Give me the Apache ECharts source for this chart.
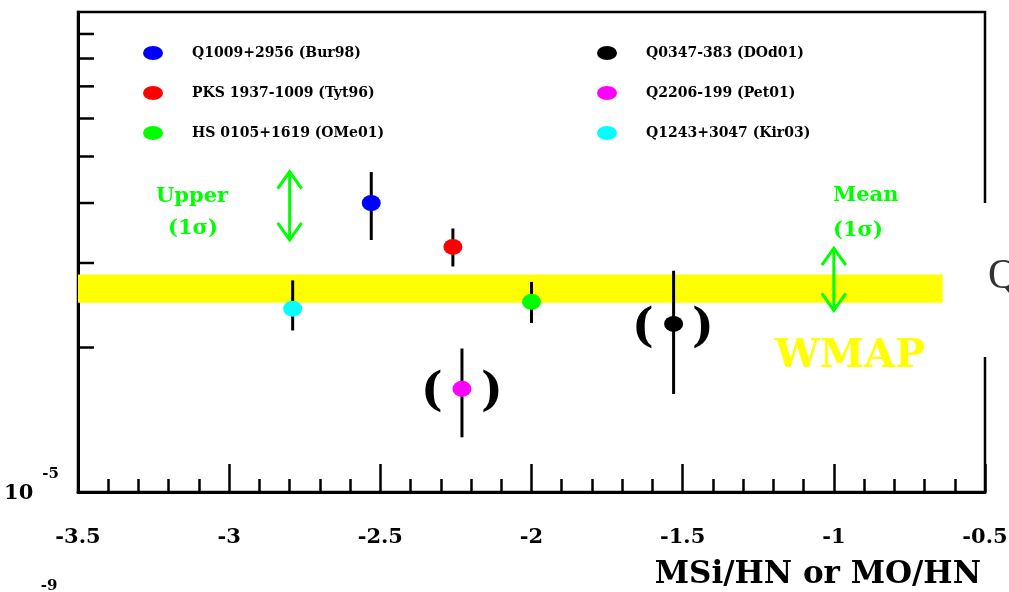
<!DOCTYPE html>
<html>
<head>
<meta charset="utf-8">
<script src="https://cdn.jsdelivr.net/npm/echarts@6/dist/echarts.min.js"></script>
<style>
html,body{margin:0;padding:0;background:#fff;}
#chart{width:1009px;height:592px;}
</style>
</head>
<body>
<div id="chart"></div>
<script>
// ---- data ----
const sourceNames = ['Q1009+2956 (Bur98)', 'PKS 1937-1009 (Tyt96)', 'HS 0105+1619 (OMe01)',
                     'Q0347-383 (DOd01)', 'Q2206-199 (Pet01)', 'Q1243+3047 (Kir03)'];
const sourceColors = ['#0000ff', '#ff0000', '#00ff00', '#000000', '#ff00ff', '#00ffff'];
const xValues = [-2.53, -2.26, -2.00, -1.53, -2.23, -2.79];
const yValues = [4.00e-5, 3.24e-5, 2.49e-5, 2.24e-5, 1.64e-5, 2.41e-5];
const yLow    = [3.35e-5, 2.95e-5, 2.25e-5, 1.60e-5, 1.30e-5, 2.17e-5];
const yHigh   = [4.64e-5, 3.54e-5, 2.74e-5, 2.89e-5, 1.99e-5, 2.76e-5];
const yTickValues = [2e-5, 3e-5, 4e-5, 5e-5, 6e-5, 7e-5, 8e-5, 9e-5];
const wmapBandX = [-3.5, -0.64];
const wmapBandY = [2.48e-5, 2.84e-5];
const arrowX    = [-2.80, -1.00];
const arrowLow  = [3.35e-5, 2.39e-5];
const arrowHigh = [4.65e-5, 3.22e-5];
const xMin = -3.5, xMax = -0.5, xStep = 0.5;
const yMin = 1e-5, yMax = 1e-4;

// ---- chart ----
const FONT = 'DejaVu Serif';
const ELLIPSE = 'path://M10 0A10 10 0 1 1 10 20A10 10 0 1 1 10 0Z';
const GREEN = '#00ff00';
const chart = echarts.init(document.getElementById('chart'), null, {renderer: 'canvas'});

const pointSeries = sourceNames.map((name, i) => ({
  name: name,
  type: 'scatter',
  symbol: ELLIPSE,
  symbolSize: [19, 16],
  symbolKeepAspect: false,
  itemStyle: {color: sourceColors[i], opacity: 1},
  data: [[xValues[i], yValues[i]]],
  z: 5,
  silent: true
}));

function legendCfg(names, left) {
  return {
    orient: 'vertical', left: left, top: 46, padding: 0, itemWidth: 20, itemHeight: 14, itemGap: 26,
    icon: ELLIPSE, symbolKeepAspect: false, selectedMode: false, data: names,
    textStyle: {fontFamily: FONT, fontWeight: 'bold', fontSize: 14, color: '#000', lineHeight: 14, padding: [0, 0, 0, 24]}
  };
}

const option = {
  backgroundColor: '#fff',
  animation: false,
  legend: [legendCfg(sourceNames.slice(0, 3), 143), legendCfg(sourceNames.slice(3), 597)],
  grid: {left: 78, top: 12, width: 907, height: 480, containLabel: false, outerBoundsMode: 'none',
         show: true, borderColor: '#000', borderWidth: 2.5, backgroundColor: 'transparent'},
  xAxis: {
    type: 'value', min: xMin, max: xMax, interval: xStep,
    axisLine: {lineStyle: {color: '#000', width: 3}},
    axisTick: {inside: true, length: 28, lineStyle: {color: '#000', width: 2.5}},
    minorTick: {show: true, splitNumber: 5, length: 13, lineStyle: {color: '#000', width: 2.5}},
    splitLine: {show: false},
    axisLabel: {margin: 35, fontFamily: FONT, fontWeight: 'bold', fontSize: 21, color: '#000',
      showMinLabel: true, showMaxLabel: true},
    name: 'MSi/HN or MO/HN', nameLocation: 'end', nameGap: -4,
    nameTextStyle: {fontFamily: FONT, fontWeight: 'bold', fontSize: 31, color: '#000',
      align: 'right', verticalAlign: 'top', padding: [67, 0, 0, 0]}
  },
  yAxis: {
    type: 'log', logBase: 10, min: yMin, max: yMax,
    axisLine: {lineStyle: {color: '#000', width: 3}},
    axisTick: {show: false},
    splitLine: {show: false},
    axisLabel: {
      margin: 19,
      formatter: v => (Math.abs(Math.log10(v) + 5) < 1e-6 ? '{a|10}{b|-5}' : ''),
      rich: {
        a: {fontFamily: FONT, fontWeight: 'bold', fontSize: 21, color: '#000', padding: [4, 0, 0, 0]},
        b: {fontFamily: FONT, fontWeight: 'bold', fontSize: 15, color: '#000', padding: [0, 0, 36, 9]}
      }
    }
  },
  series: [
    {
      type: 'custom', name: 'WMAP band', coordinateSystem: 'cartesian2d', silent: true, z: 1,
      data: [[wmapBandX[0], wmapBandY[0], wmapBandX[1], wmapBandY[1]]],
      encode: {x: [0, 2], y: [1, 3]},
      renderItem: (params, api) => {
        const a = api.coord([api.value(0), api.value(3)]);
        const b = api.coord([api.value(2), api.value(1)]);
        return {type: 'rect', shape: {x: a[0], y: a[1], width: b[0] - a[0], height: b[1] - a[1]},
                style: {fill: '#ffff00'}};
      }
    },
    {
      type: 'custom', name: 'y ticks', coordinateSystem: 'cartesian2d', silent: true, z: 2,
      data: yTickValues.map(v => [xMin, v]),
      encode: {x: 0, y: 1},
      renderItem: (params, api) => {
        const p = api.coord([api.value(0), api.value(1)]);
        return {type: 'line', shape: {x1: p[0], y1: p[1], x2: p[0] + 16, y2: p[1]},
                style: {stroke: '#000', lineWidth: 2.5}};
      }
    },
    {
      type: 'custom', name: 'error bars', coordinateSystem: 'cartesian2d', silent: true, z: 3,
      data: xValues.map((x, i) => [x, yLow[i], yHigh[i]]),
      encode: {x: 0, y: [1, 2]},
      renderItem: (params, api) => {
        const p1 = api.coord([api.value(0), api.value(1)]);
        const p2 = api.coord([api.value(0), api.value(2)]);
        return {type: 'line', shape: {x1: p1[0], y1: p1[1], x2: p2[0], y2: p2[1]},
                style: {stroke: '#000', lineWidth: 3}};
      }
    },
    {
      type: 'custom', name: 'arrows', coordinateSystem: 'cartesian2d', silent: true, z: 3,
      data: arrowX.map((x, i) => [x, arrowLow[i], arrowHigh[i]]),
      encode: {x: 0, y: [1, 2]},
      renderItem: (params, api) => {
        const bot = api.coord([api.value(0), api.value(1)]);
        const top = api.coord([api.value(0), api.value(2)]);
        const x = top[0], hw = 12, hl = 17;
        const st = {stroke: GREEN, lineWidth: 3, fill: null};
        return {type: 'group', children: [
          {type: 'line', shape: {x1: x, y1: top[1], x2: x, y2: bot[1]}, style: st},
          {type: 'polyline', shape: {points: [[x - hw, top[1] + hl], [x, top[1]], [x + hw, top[1] + hl]]}, style: st},
          {type: 'polyline', shape: {points: [[x - hw, bot[1] - hl], [x, bot[1]], [x + hw, bot[1] - hl]]}, style: st}
        ]};
      }
    }
  ].concat(pointSeries),
  graphic: [
    {type: 'rect', z: 100, shape: {x: 976, y: 203, width: 18, height: 154}, style: {fill: '#fff'}},
    {type: 'text', z: 101, x: 988, y: 277, style: {text: 'Q', font: '42px "Liberation Serif"', fill: '#333', align: 'left', verticalAlign: 'middle'}},
    {type: 'text', z: 101, x: 192, y: 197, style: {text: 'Upper', font: 'bold 21px "DejaVu Serif"', fill: GREEN, align: 'center', verticalAlign: 'middle'}},
    {type: 'text', z: 101, x: 193, y: 229, style: {text: '(1σ)', font: 'bold 21px "DejaVu Serif"', fill: GREEN, align: 'center', verticalAlign: 'middle'}},
    {type: 'text', z: 101, x: 833, y: 196, style: {text: 'Mean', font: 'bold 21px "DejaVu Serif"', fill: GREEN, align: 'left', verticalAlign: 'middle'}},
    {type: 'text', z: 101, x: 833, y: 231, style: {text: '(1σ)', font: 'bold 21px "DejaVu Serif"', fill: GREEN, align: 'left', verticalAlign: 'middle'}},
    {type: 'text', z: 101, x: 850, y: 357, style: {text: 'WMAP', font: 'bold 40px "DejaVu Serif"', fill: '#ffff00', align: 'center', verticalAlign: 'middle'}},
    {type: 'text', z: 101, x: 432, y: 393, style: {text: '(', font: 'bold 46px "DejaVu Serif"', fill: '#000', align: 'center', verticalAlign: 'middle'}},
    {type: 'text', z: 101, x: 492, y: 393, style: {text: ')', font: 'bold 46px "DejaVu Serif"', fill: '#000', align: 'center', verticalAlign: 'middle'}},
    {type: 'text', z: 101, x: 643, y: 329, style: {text: '(', font: 'bold 46px "DejaVu Serif"', fill: '#000', align: 'center', verticalAlign: 'middle'}},
    {type: 'text', z: 101, x: 703, y: 329, style: {text: ')', font: 'bold 46px "DejaVu Serif"', fill: '#000', align: 'center', verticalAlign: 'middle'}},
    {type: 'text', z: 101, x: 49, y: 586, style: {text: '-9', font: 'bold 15px "DejaVu Serif"', fill: '#000', align: 'center', verticalAlign: 'middle'}}
  ]
};
chart.setOption(option);
</script>
</body>
</html>
